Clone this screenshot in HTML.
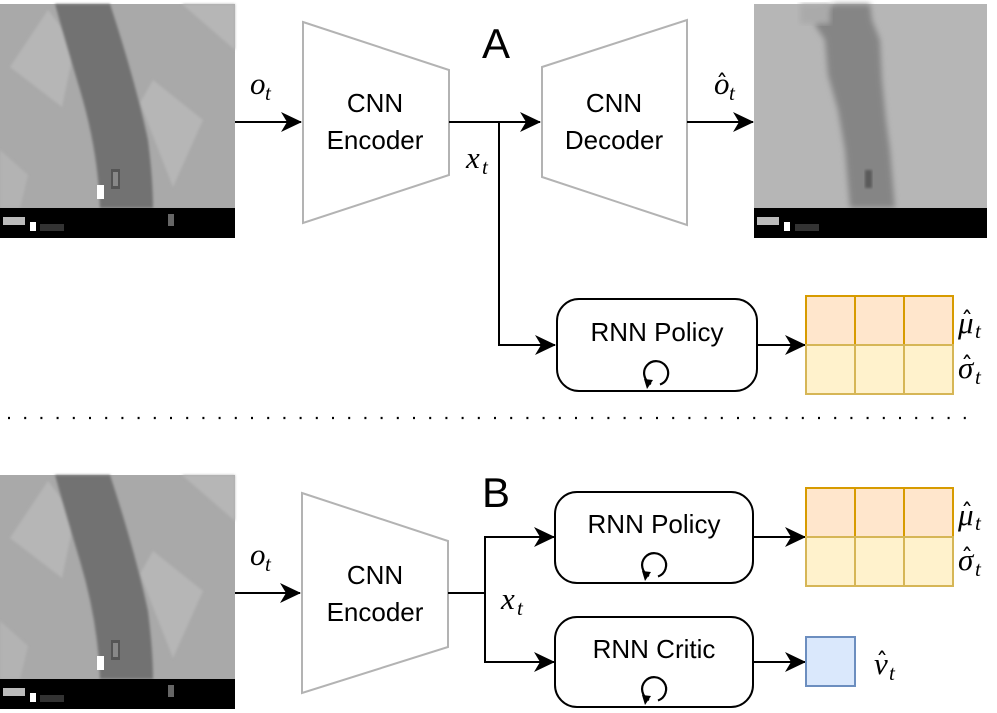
<!DOCTYPE html>
<html><head><meta charset="utf-8"><style>
html,body{margin:0;padding:0;background:#fff;}
svg{display:block;}
.t{font-family:"Liberation Sans",sans-serif;font-size:26px;fill:#000;text-anchor:middle;}
.m{font-family:"Liberation Serif",serif;font-style:italic;font-size:31px;fill:#000;}
.s{font-family:"Liberation Serif",serif;font-style:italic;font-size:21px;fill:#000;}
.h{font-family:"DejaVu Sans",sans-serif;font-size:24px;fill:#000;}
</style></head><body>
<svg width="997" height="713" viewBox="0 0 997 713" xmlns="http://www.w3.org/2000/svg">
<defs>
<marker id="ar" markerWidth="24" markerHeight="24" refX="20" refY="11" orient="auto" markerUnits="userSpaceOnUse">
<path d="M0,1 L21,11 L0,21 L6,11 Z" fill="#000"/>
</marker>
<filter id="bl"><feGaussianBlur stdDeviation="1.2"/></filter>
<filter id="bl3"><feGaussianBlur stdDeviation="3"/></filter>
<g id="img">
<rect x="0" y="4" width="235" height="234" fill="#a9a9a9"/>
<polygon points="10,67 48,10 75,45 62,107" fill="#b6b6b6" filter="url(#bl)"/>
<polygon points="140,103 153,80 203,120 173,187" fill="#b6b6b6" filter="url(#bl)"/>
<polygon points="182,4 235,4 235,50" fill="#b6b6b6" filter="url(#bl)"/>
<polygon points="0,150 28,175 20,208 0,208" fill="#b3b3b3" filter="url(#bl)"/>
<path d="M55,4 L110,4 Q135,80 148,140 Q153,180 153,208 L100,208 Q98,150 80,90 Q65,40 55,4 Z" fill="#727272" filter="url(#bl)"/>
<rect x="111" y="169" width="9" height="20" fill="#555"/>
<rect x="113" y="172" width="5" height="14" fill="#888"/>
<rect x="97" y="185" width="7" height="14" fill="#fff"/>
<rect x="0" y="208" width="235" height="30" fill="#000"/>
<rect x="3" y="217" width="22" height="8" fill="#bbb"/>
<rect x="30" y="222" width="6" height="9" fill="#fff"/>
<rect x="40" y="224" width="24" height="7" fill="#333"/>
<rect x="168" y="214" width="6" height="12" fill="#666"/>
</g>
</defs>

<use href="#img"/>
<use href="#img" transform="translate(0,471)"/>

<rect x="754" y="4" width="233" height="234" fill="#b6b6b6"/>
<path d="M835,4 L870,4 L872,20 L880,40 L882,80 L886,120 L890,150 L895,208 L850,208 L845,150 L838,110 L828,75 L825,40 L815,25 L818,12 Z" fill="#858585" filter="url(#bl3)"/>
<rect x="800" y="4" width="30" height="20" fill="#aaa" filter="url(#bl3)"/>
<rect x="865" y="170" width="7" height="18" fill="#5a5a5a" filter="url(#bl)"/>
<rect x="754" y="208" width="233" height="30" fill="#000"/>
<rect x="757" y="217" width="22" height="8" fill="#bbb"/>
<rect x="784" y="222" width="6" height="9" fill="#fff"/>
<rect x="795" y="224" width="24" height="7" fill="#333"/>

<text x="496" y="58" class="t" style="font-size:42px">A</text>
<polygon points="303,22 449,70 449,175 303,223" fill="#fff" stroke="#b3b3b3" stroke-width="2"/>
<text x="375" y="112" class="t">CNN</text>
<text x="375" y="149" class="t">Encoder</text>
<polygon points="542,67 687,20 687,225 542,177" fill="#fff" stroke="#b3b3b3" stroke-width="2"/>
<text x="614" y="112" class="t">CNN</text>
<text x="614" y="149" class="t">Decoder</text>

<line x1="235" y1="122" x2="301" y2="122" stroke="#000" stroke-width="2" marker-end="url(#ar)"/>
<line x1="449" y1="122" x2="540" y2="122" stroke="#000" stroke-width="2" marker-end="url(#ar)"/>
<line x1="687" y1="122" x2="753" y2="122" stroke="#000" stroke-width="2" marker-end="url(#ar)"/>
<polyline points="499,122 499,345 555,345" fill="none" stroke="#000" stroke-width="2" marker-end="url(#ar)"/>

<text x="250" y="94" class="m">o</text><text x="265" y="100" class="s">t</text>
<text x="466" y="168" class="m">x</text><text x="482" y="174" class="s">t</text>
<text x="714" y="94" class="m">o</text><text x="716" y="92" class="h">ˆ</text><text x="729" y="100" class="s">t</text>

<rect x="557" y="299" width="200" height="92" rx="22" fill="#fff" stroke="#000" stroke-width="2"/>
<text x="657" y="341" class="t">RNN Policy</text>
<path d="M651,384 A12,12 0 1 1 660,384.5" fill="none" stroke="#000" stroke-width="2.2"/>
<path d="M644,379 L653,380 L647,389 Z" fill="#000"/>
<line x1="757" y1="345" x2="805" y2="345" stroke="#000" stroke-width="2" marker-end="url(#ar)"/>
<g stroke-width="2">
<rect x="806" y="296" width="49" height="49" fill="#ffe6cc" stroke="#d79b00"/>
<rect x="855" y="296" width="49" height="49" fill="#ffe6cc" stroke="#d79b00"/>
<rect x="904" y="296" width="49" height="49" fill="#ffe6cc" stroke="#d79b00"/>
<rect x="806" y="345" width="49" height="49" fill="#fff2cc" stroke="#d6b656"/>
<rect x="855" y="345" width="49" height="49" fill="#fff2cc" stroke="#d6b656"/>
<rect x="904" y="345" width="49" height="49" fill="#fff2cc" stroke="#d6b656"/>
</g>
<text x="958" y="333" class="m">μ</text><text x="961" y="329" class="h">ˆ</text><text x="975" y="338" class="s">t</text>
<text x="958" y="378" class="m">σ</text><text x="961" y="374" class="h">ˆ</text><text x="975" y="384" class="s">t</text>

<line x1="8" y1="418" x2="968" y2="418" stroke="#000" stroke-width="2.2" stroke-dasharray="2,14.2" stroke-linecap="butt"/>

<text x="496" y="507" class="t" style="font-size:42px">B</text>
<polygon points="302,493 448,541 448,647 302,693" fill="#fff" stroke="#b3b3b3" stroke-width="2"/>
<text x="375" y="584" class="t">CNN</text>
<text x="375" y="621" class="t">Encoder</text>
<line x1="235" y1="593" x2="300" y2="593" stroke="#000" stroke-width="2" marker-end="url(#ar)"/>
<line x1="448" y1="593" x2="485" y2="593" stroke="#000" stroke-width="2"/>
<polyline points="485,593 485,537 554,537" fill="none" stroke="#000" stroke-width="2" marker-end="url(#ar)"/>
<polyline points="485,593 485,662 554,662" fill="none" stroke="#000" stroke-width="2" marker-end="url(#ar)"/>
<text x="250" y="565" class="m">o</text><text x="265" y="571" class="s">t</text>
<text x="501" y="609" class="m">x</text><text x="517" y="615" class="s">t</text>

<rect x="555" y="492" width="198" height="91" rx="22" fill="#fff" stroke="#000" stroke-width="2"/>
<text x="654" y="533" class="t">RNN Policy</text>
<path d="M649,576 A12,12 0 1 1 658,576.5" fill="none" stroke="#000" stroke-width="2.2"/>
<path d="M642,571 L651,572 L645,581 Z" fill="#000"/>
<rect x="555" y="617" width="198" height="90" rx="22" fill="#fff" stroke="#000" stroke-width="2"/>
<text x="654" y="658" class="t">RNN Critic</text>
<path d="M649,700 A12,12 0 1 1 658,700.5" fill="none" stroke="#000" stroke-width="2.2"/>
<path d="M642,695 L651,696 L645,705 Z" fill="#000"/>

<line x1="753" y1="537" x2="805" y2="537" stroke="#000" stroke-width="2" marker-end="url(#ar)"/>
<line x1="753" y1="662" x2="805" y2="662" stroke="#000" stroke-width="2" marker-end="url(#ar)"/>
<g stroke-width="2">
<rect x="806" y="488" width="49" height="49" fill="#ffe6cc" stroke="#d79b00"/>
<rect x="855" y="488" width="49" height="49" fill="#ffe6cc" stroke="#d79b00"/>
<rect x="904" y="488" width="49" height="49" fill="#ffe6cc" stroke="#d79b00"/>
<rect x="806" y="537" width="49" height="49" fill="#fff2cc" stroke="#d6b656"/>
<rect x="855" y="537" width="49" height="49" fill="#fff2cc" stroke="#d6b656"/>
<rect x="904" y="537" width="49" height="49" fill="#fff2cc" stroke="#d6b656"/>
<rect x="806" y="637" width="49" height="49" fill="#dae8fc" stroke="#6c8ebf"/>
</g>
<text x="958" y="525" class="m">μ</text><text x="961" y="521" class="h">ˆ</text><text x="975" y="530" class="s">t</text>
<text x="958" y="570" class="m">σ</text><text x="961" y="566" class="h">ˆ</text><text x="975" y="576" class="s">t</text>
<text x="874" y="674" class="m">v</text><text x="876" y="670" class="h">ˆ</text><text x="889" y="680" class="s">t</text>
</svg>
</body></html>
